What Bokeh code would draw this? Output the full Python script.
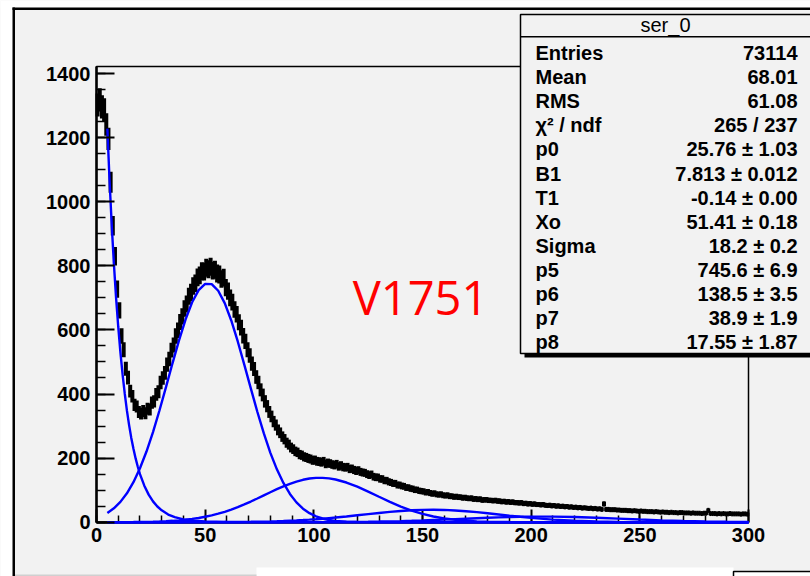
import numpy as np
from bokeh.plotting import figure
from bokeh.models import SingleIntervalTicker, BoxAnnotation, Label, Range1d
from bokeh.embed import file_html
from bokeh.resources import INLINE

# ---------------- data ----------------
# histogram counts, bins of width 1 from 0 to 300
counts = (
    [1302, 1318, 1296, 1287, 1241, 1196, 1061, 925, 830, 727, 661, 581, 538, 479, 451,
     409, 393, 366, 361, 344, 339, 347, 340, 354, 352, 373, 377, 399, 407, 436]
    + [450, 466, 492, 509, 537, 553, 581, 599, 625, 642, 667, 681, 705, 717, 737,
       746, 764, 770, 783, 782, 794, 789, 797, 785, 788, 776, 773, 759, 763, 732]
    + [721, 700, 687, 664, 649, 624, 607, 582, 564, 538, 520, 495, 478, 453, 436,
       413, 397, 377, 362, 344, 330, 314, 303, 288, 279, 267, 259, 248, 242, 233,
       228, 221, 218, 211, 209, 204, 202, 199, 197, 193]
    + [194, 190, 189, 187, 190, 182, 185, 183, 180, 178, 181, 174, 177, 172, 171,
       172, 166, 167, 163, 160, 162, 157, 155, 154, 150, 147, 149, 142, 140, 140,
       135, 135, 130, 130, 126, 124, 121, 121, 116, 116, 113, 112, 108, 108, 105,
       104, 101, 101, 98, 97]
    + [96, 93, 94, 91, 89, 90, 87, 86, 87, 84, 83, 84, 81, 81, 79, 80, 78, 78, 76, 77,
       75, 74, 75, 72, 73, 71, 72, 69, 70, 70, 68, 68, 67, 68, 66, 66, 64, 65, 63, 64,
       62, 63, 61, 61, 60, 61, 58, 59, 57, 58]
    + [56, 57, 55, 55, 54, 55, 53, 52, 53, 51, 52, 50, 51, 49, 50, 48, 49, 47, 48, 46,
       47, 45, 46, 44, 45, 44, 43, 44, 42, 43, 41, 42, 40, 57, 40, 40, 39, 39, 39, 38,
       38, 37, 37, 37, 36, 36, 35, 36, 35, 34]
    + [35, 34, 34, 33, 33, 33, 32, 33, 32, 31, 32, 31, 31, 30, 31, 30, 30, 29, 30, 30,
       29, 29, 29, 28, 29, 28, 28, 28, 27, 28, 28, 37, 27, 27, 27, 26, 27, 26, 27, 26,
       26, 27, 26, 26, 26, 26, 25, 26, 26, 25]
)

# fit components (blue curves)
exp_x = [5, 6, 7, 8, 9, 10, 11, 12, 13, 14, 15, 16, 17, 18, 19, 20, 22, 24, 26, 28,
         30, 33, 36, 40, 45, 50, 60, 80, 150, 300]
exp_y = [1228, 1067, 928, 807, 701, 610, 530, 461, 401, 348, 303, 263, 229, 199, 173,
         150, 114, 86, 65, 49, 37, 24, 16, 9, 4.5, 2.2, 0.5, 0, 0, 0]

comp_x = [5, 8, 11, 14, 17, 20, 23, 26, 29, 32, 35, 38, 41, 44, 47, 50, 53, 56, 59, 62,
          65, 68, 71, 74, 77, 80, 83, 86, 89, 92, 95, 98, 101, 104, 107, 110, 115, 120,
          125, 130, 135, 140, 145, 150, 155, 160, 165, 170, 175, 180, 185, 190, 195, 200,
          210, 220, 230, 240, 250, 260, 270, 280, 290, 300]
gaus1_y = [28.9, 43.4, 63.4, 90.2, 124.8, 168.2, 220.5, 281.3, 349.4, 422.2,
           496.6, 568.4, 633.1, 686.3, 724.0, 743.4, 742.8, 722.3, 683.5, 629.5,
           564.0, 491.9, 417.7, 344.7, 277.0, 216.5, 165.0, 122.5, 88.3, 61.9,
           42.3, 28.1, 18.2, 11.5, 7.0, 4.2, 1.7, 0.6, 0.2, 0,
           0, 0, 0, 0, 0, 0, 0, 0, 0, 0,
           0, 0, 0, 0, 0, 0, 0, 0, 0, 0,
           0, 0, 0, 0]
gaus2_y = [0.1, 0.16, 0.24, 0.36, 0.53, 0.78, 1.1, 1.6, 2.3, 3.1,
           4.3, 5.8, 7.7, 10.2, 13.2, 16.9, 21.3, 26.5, 32.5, 39.4,
           47.0, 55.5, 64.5, 74.0, 83.8, 93.5, 103.0, 111.8, 119.9, 126.7,
           132.3, 136.2, 138.2, 138.4, 136.7, 133.2, 123.8, 110.8, 95.5, 79.3,
           63.4, 48.8, 36.2, 25.8, 17.7, 11.7, 7.5, 4.6, 2.7, 1.5,
           0.85, 0.45, 0.2, 0.1, 0, 0, 0, 0, 0, 0,
           0, 0, 0, 0]
gaus3_y = [0, 0, 0, 0, 0, 0, 0, 0, 0.02, 0.03,
           0.05, 0.07, 0.09, 0.12, 0.14, 0.16, 0.22, 0.3, 0.4, 0.54,
           0.71, 0.92, 1.2, 1.5, 1.9, 2.4, 3.0, 3.7, 4.6, 5.5,
           6.65, 7.9, 9.35, 10.9, 12.7, 14.5, 17.9, 21.6, 25.3, 28.9,
           32.3, 35.1, 37.3, 38.5, 38.9, 38.3, 36.7, 34.3, 31.3, 27.8,
           24.2, 20.4, 16.9, 13.6, 8.1, 4.4, 2.2, 0.96, 0.39, 0.14,
           0.05, 0.02, 0, 0]
gaus4_y = [0, 0, 0, 0, 0, 0, 0, 0, 0, 0,
           0, 0, 0, 0, 0, 0, 0, 0, 0, 0,
           0, 0, 0, 0, 0, 0.05, 0.07, 0.09, 0.11, 0.14,
           0.18, 0.22, 0.28, 0.35, 0.45, 0.56, 0.8, 1.1, 1.5, 2.0,
           2.7, 3.45, 4.4, 5.46, 6.7, 8.0, 9.5, 10.9, 12.3, 13.7,
           15.0, 16.0, 16.9, 17.3, 17.4, 16.2, 14.0, 11.2, 8.35, 5.75,
           3.68, 2.18, 1.2, 0.61]

x_limits = (0, 300)      # histogram frame, x
y_limits = (0, 1422)     # histogram frame, y (ticks stop at 1400)

stat_title = "ser_0"
stat_labels = ["Entries", "Mean", "RMS", "\u03c7\u00b2 / ndf", "p0", "B1", "T1", "Xo",
               "Sigma", "p5", "p6", "p7", "p8"]
stat_values = ["73114", "68.01", "61.08", "265 / 237", "25.76 \u00b1 1.03",
               "7.813 \u00b1 0.012", "-0.14 \u00b1 0.00", "51.41 \u00b1 0.18",
               "18.2 \u00b1 0.2", "745.6 \u00b1 6.9", "138.5 \u00b1 3.5",
               "38.9 \u00b1 1.9", "17.55 \u00b1 1.87"]
tag_text = "V1751"

# ---------------- layout (pixels of the 810x576 page) ----------------
W, H = 810, 576
FX0, FX1, FY0, FY1 = 96, 748, 66, 521.7      # plot frame: left, right, top, bottom
sx = (FX1 - FX0) / (x_limits[1] - x_limits[0])
sy = (FY1 - FY0) / (y_limits[1] - y_limits[0])
xr = Range1d(x_limits[0] - FX0 / sx, x_limits[1] + (W - FX1) / sx)
yr = Range1d(y_limits[0] - (H - FY1) / sy, y_limits[1] + FY0 / sy)

BG = "#f2f2f2"
p = figure(width=W, height=H, x_range=xr, y_range=yr,
           output_backend="svg", toolbar_location=None,
           min_border=0, min_border_left=0, min_border_right=0,
           min_border_top=0, min_border_bottom=0,
           background_fill_color=BG, border_fill_color=BG)
p.title.visible = False
p.xgrid.visible = False
p.ygrid.visible = False
p.outline_line_color = None

p.xaxis[0].fixed_location = y_limits[0]
p.xaxis[0].bounds = x_limits
p.xaxis[0].level = "underlay"
p.yaxis[0].fixed_location = x_limits[0]
p.yaxis[0].bounds = y_limits

for ax, interval, nminor, tin, tmin in ((p.xaxis[0], 50, 5, 13, 7), (p.yaxis[0], 200, 4, 18, 9)):
    ax.ticker = SingleIntervalTicker(interval=interval, num_minor_ticks=nminor)
    ax.major_tick_in = tin
    ax.major_tick_out = 0
    ax.minor_tick_in = tmin
    ax.minor_tick_out = 0
    ax.axis_line_width = 2.5
    ax.major_tick_line_width = 2
    ax.minor_tick_line_width = 1.5
    ax.major_label_text_font = "Liberation Sans"
    ax.major_label_text_font_style = "bold"
    ax.major_label_text_font_size = "20px"
    ax.major_label_text_color = "black"
    ax.major_label_standoff = 6

# plot frame (top / right border of the histogram pad)
p.add_layout(BoxAnnotation(left=x_limits[0], right=x_limits[1], bottom=y_limits[0],
                           top=y_limits[1], fill_alpha=0, line_color="black",
                           line_alpha=1.0, line_width=1.5, level="underlay"))

# histogram with error bars
c = np.array(counts, dtype=float)
left = np.arange(len(c), dtype=float)
err = np.sqrt(c)
p.segment(x0=left, x1=left + 1, y0=c, y1=c, line_color="black", line_width=5)
p.segment(x0=left + 0.5, x1=left + 0.5, y0=c - err, y1=c + err,
          line_color="black", line_width=4)

# fit components
p.line(exp_x, exp_y, line_color="#0000ff", line_width=2.4)
for ys in (gaus1_y, gaus2_y, gaus3_y, gaus4_y):
    p.line(comp_x, ys, line_color="#0000ff", line_width=2.4)


def box(l, r, t, b, fill, line=None, lw=0):
    p.add_layout(BoxAnnotation(left=l, right=r, top=t, bottom=b,
                               left_units="canvas", right_units="canvas",
                               top_units="canvas", bottom_units="canvas",
                               fill_color=fill, fill_alpha=1.0,
                               line_color=line, line_alpha=1.0, line_width=lw,
                               level="overlay"))


def lab(x, y, text, size, align, color="black", font="Liberation Sans", style="bold"):
    p.add_layout(Label(x=x, y=y, x_units="canvas", y_units="canvas", text=text,
                       text_font=font, text_font_size=f"{size}px", text_font_style=style,
                       text_align=align, text_baseline="middle", text_color=color,
                       level="overlay"))


# page decorations (outer pad frame)
box(0, 13, 0, 576, "white")
box(0, 810, 0, 8, "white")
box(12, 14.5, 7, 576, "black")
box(12, 810, 7, 9.5, "black")
box(256, 733, 567, 576, "white")
box(733, 830, 571, 600, "white", "black", 1.5)
box(14.5, 256, 574, 576, "#d0d0d0")

# statistics box
box(524, 834, 18, 357, "black")
box(520, 830, 14, 353, BG, "black", 1.5)
box(520, 830, 35.5, 37, "black")
lab(665, 24, stat_title, 20, "center", style="normal")
for i, (sl, sv) in enumerate(zip(stat_labels, stat_values)):
    yc = 52.5 + i * 24.1
    lab(535, yc, sl, 20, "left")
    lab(797, yc, sv, 20, "right")

# red tag
lab(420, 296, tag_text, 47, "center", color="#ff0000", font="Open Sans", style="normal")

open("out.html", "w").write(file_html(p, INLINE))
